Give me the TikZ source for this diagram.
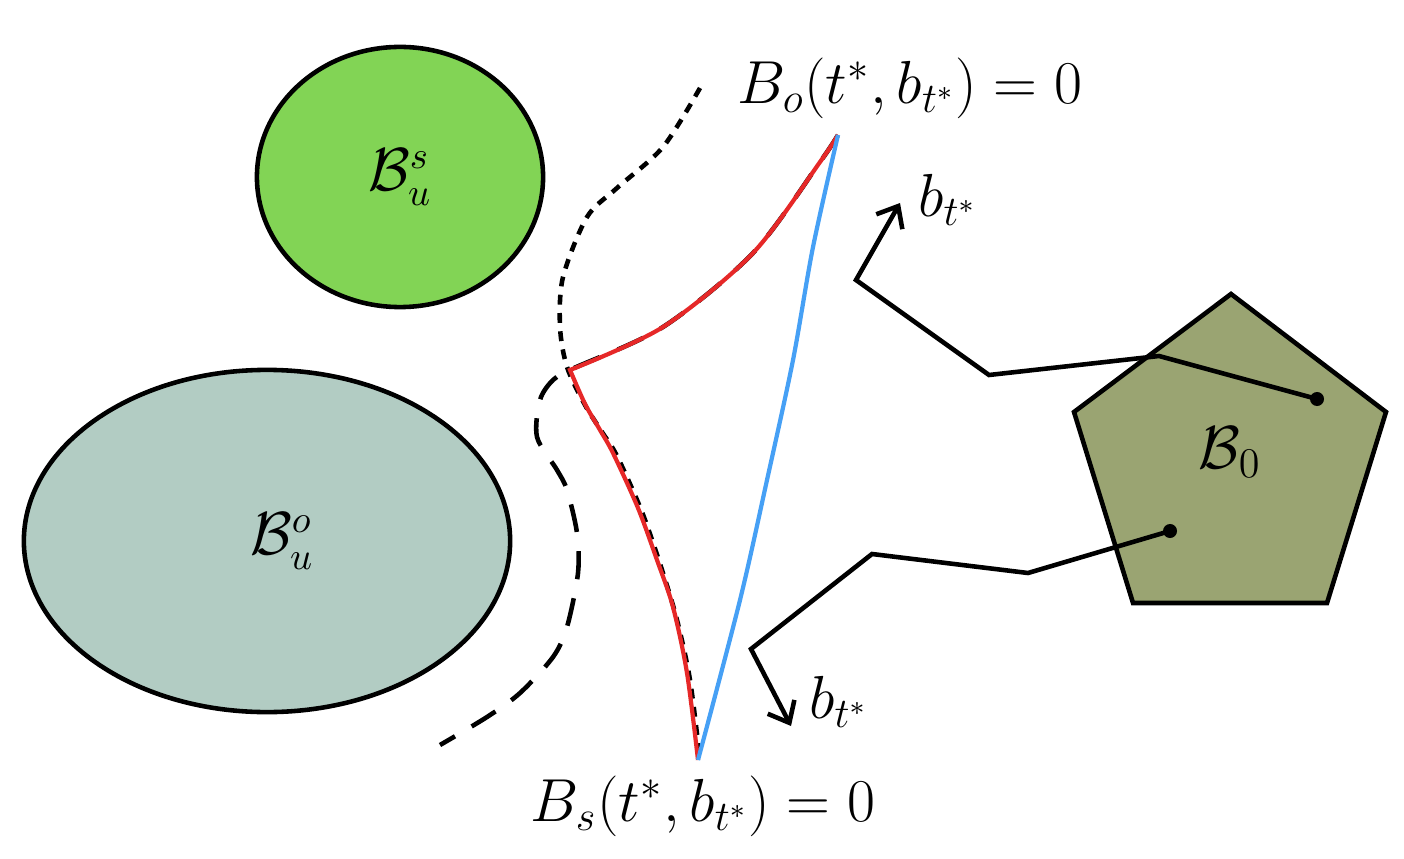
\documentclass[tikz,border=0pt]{standalone}
\usepackage{amsmath}
\usetikzlibrary{arrows.meta, positioning, shapes.geometric}
\definecolor{setgreen}{RGB}{130,212,85}
\definecolor{setgrey}{RGB}{178,204,195}
\definecolor{setolive}{RGB}{154,164,114}
\definecolor{cbfred}{RGB}{230,40,40}
\definecolor{cbfblue}{RGB}{70,160,245}

\begin{document}
\begin{tikzpicture}[
    x=0.01cm, y=-0.01cm,
    set/.style={draw, ellipse, line width=1.3pt, inner sep=0pt, font=\fontsize{16}{19}\selectfont},
    lbl/.style={font=\fontsize{16.5}{19}\selectfont},
    bnd/.style={line width=1.3pt},
    dotbnd/.style={line width=1.3pt, dash pattern=on 2.8pt off 2.4pt},
    dashbnd/.style={line width=1.3pt, dash pattern=on 8pt off 5.5pt},
    arr/.style={-{Straight Barb[length=1.8mm, width=3mm]}, line width=1.3pt}
]
\useasboundingbox (0,0) rectangle (1404,858);

% unsafe sets
\node[set, fill=setgreen, minimum width=2.86cm, minimum height=2.6cm] (bus) at (400,177) {$\mathcal{B}_u^s$};
\node[set, fill=setgrey, minimum width=4.86cm, minimum height=3.42cm] (buo) at (267,541) {\hspace{0.3cm}$\mathcal{B}_u^o$};

% initial set
\coordinate (pt) at (1231,294);
\coordinate (pr) at (1386,412);
\coordinate (pbr) at (1327,603);
\coordinate (pbl) at (1133,603);
\coordinate (pl) at (1074,412);
\draw[bnd, fill=setolive] (pt) -- (pr) -- (pbr) -- (pbl) -- (pl) -- cycle;
\node[lbl] (bzero) at (1230,452) {$\mathcal{B}_0$};

% barrier boundaries
\draw[dotbnd] plot[smooth] coordinates {(700,88) (663,147) (617,188) (587,217) (563,277) (560,327) (567,367)
    (585,405) (602,432) (617,456) (642,512) (662,570) (677,620) (690,680) (700,760)};
\draw[dashbnd] plot[smooth] coordinates {(838,135) (820,162) (753,253) (663,327) (572,369) (553,380) (540,400)
    (537,437) (557,470) (567,490) (577,533) (578,573) (567,627) (553,657) (520,693) (487,717) (440,745)};

% combined boundary
\draw[cbfred, line width=1.2pt, line join=miter] plot[smooth] coordinates {(838,135) (820,162) (753,253) (663,327) (570,370)}
    -- plot[smooth] coordinates {(570,370) (585,404) (600,430) (613,453) (638,508) (657,560) (673,607) (687,673) (698,760)};
\draw[cbfblue, line width=1.2pt] plot[smooth] coordinates {(838,135) (813,247) (793,360) (767,480) (740,600) (698,760)};

% trajectories
\coordinate (xa) at (1317,399);
\coordinate (xa1) at (1159,356);
\coordinate (xa2) at (989,375);
\coordinate (xa3) at (856,280);
\coordinate (xa4) at (900,203);
\coordinate (xb) at (1170,531);
\coordinate (xb1) at (1028,573);
\coordinate (xb2) at (872,554);
\coordinate (xb3) at (751,649);
\coordinate (xb4) at (791,726);
\draw[arr] (xa) -- (xa1) -- (xa2) -- (xa3) -- (xa4);
\draw[arr] (xb) -- (xb1) -- (xb2) -- (xb3) -- (xb4);
\fill (xa) circle (0.07cm);
\fill (xb) circle (0.07cm);
\node[lbl, anchor=west] (bta) at (906,200) {$b_{t^*}$};
\node[lbl, anchor=west] (btb) at (797,702) {$b_{t^*}$};

% level sets
\node[lbl] (bo) at (910,88) {$B_o(t^*, b_{t^*}) = 0$};
\node[lbl] (bs) at (703,806) {$B_s(t^*, b_{t^*}) = 0$};
\end{tikzpicture}
\end{document}
